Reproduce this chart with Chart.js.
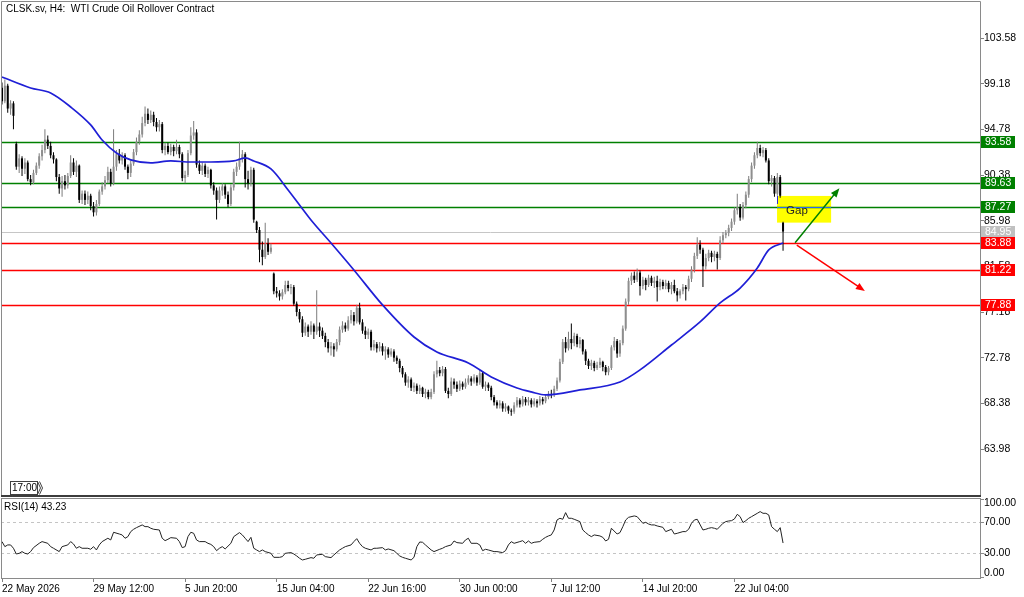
<!DOCTYPE html>
<html><head><meta charset="utf-8">
<script src="https://cdn.jsdelivr.net/npm/chart.js@4.4.1/dist/chart.umd.min.js"></script>
<style>
html,body{margin:0;padding:0;background:#fff;overflow:hidden}
#wrap{position:relative;width:1024px;height:597px;background:#fff}
#c1{position:absolute;left:0;top:0;width:1024px;height:497px}
#c2{position:absolute;left:0;top:497px;width:1024px;height:100px}
</style></head><body>
<div id="wrap"><canvas id="c1" width="1024" height="497"></canvas><canvas id="c2" width="1024" height="100"></canvas></div>
<script>
// ---------- DATA (H4 candles, index = bar number) ----------
const opens = [
98.8,97.5,99.0,96.8,97.3,93.4,91.2,92.0,91.0,91.6,
90.0,89.7,90.6,91.3,92.2,92.8,93.8,93.2,92.3,91.9,
90.2,89.1,89.8,89.4,90.3,91.6,90.7,91.3,88.0,88.6,
88.0,88.4,87.4,86.8,87.6,88.8,89.3,89.9,90.7,89.6,
91.2,92.4,91.8,92.3,91.2,90.6,91.5,92.6,93.6,94.3,
95.4,96.3,95.7,96.2,95.5,95.0,95.3,92.8,93.2,92.6,
93.1,92.7,93.1,92.4,90.1,90.4,92.5,94.2,94.5,91.4,
90.8,91.3,90.5,90.9,89.4,88.9,88.0,88.9,89.3,88.5,
87.6,89.2,90.7,91.2,92.0,92.4,90.0,89.6,90.9,85.9,
85.1,83.2,82.5,83.8,83.0,80.9,79.2,79.0,78.7,79.1,
79.8,79.5,79.6,78.0,77.2,76.5,75.2,75.8,75.3,75.9,
75.3,75.8,75.4,74.9,74.3,73.7,73.9,73.6,74.3,75.5,
75.9,75.6,76.4,76.9,76.3,77.6,76.2,75.4,75.0,75.3,
73.8,74.1,73.7,73.9,73.4,73.6,73.1,73.4,72.8,72.5,
71.8,71.2,70.4,70.7,69.9,70.1,69.6,69.9,69.3,69.5,
69.0,69.5,71.2,71.6,71.3,71.7,69.6,69.3,70.5,70.2,
69.8,70.3,70.0,70.4,70.8,70.5,70.9,70.4,71.3,70.0,
70.2,69.9,69.0,68.5,68.2,68.4,67.9,68.1,67.7,67.6,
68.2,68.7,68.3,68.8,68.5,68.7,68.3,68.6,68.4,68.8,
68.6,69.0,69.3,69.2,69.8,70.6,72.4,74.3,73.7,74.6,
74.2,74.9,74.1,74.5,73.4,72.5,72.0,72.3,71.8,72.1,
72.4,71.9,71.4,71.8,73.8,74.4,73.2,74.2,75.6,78.2,
80.2,80.7,80.3,81.0,79.7,80.3,79.8,80.5,80.0,80.2,
79.6,80.1,79.7,80.0,79.4,79.8,79.2,78.8,79.2,79.6,
79.4,80.4,81.3,82.6,83.7,83.2,81.6,82.4,82.9,82.5,
82.8,82.4,84.1,84.6,84.8,85.3,85.9,87.0,87.3,86.3,
87.5,88.5,90.0,91.3,92.3,93.0,92.5,92.8,91.8,89.8,
90.1,88.6,90.2,85.8];
const highs = [
99.3,99.6,99.2,97.6,97.5,93.6,92.4,92.2,92.0,91.8,
90.4,90.9,91.6,92.5,93.3,94.8,94.2,93.6,92.6,92.0,
90.5,90.3,90.4,90.6,92.3,92.0,91.8,91.4,88.9,88.9,
88.8,88.6,87.8,88.0,89.0,89.7,90.3,91.2,91.0,94.8,
92.8,92.9,92.6,92.5,91.4,91.8,92.9,94.0,94.7,96.0,
97.0,96.8,96.6,96.5,95.9,95.7,95.5,93.5,93.5,93.4,
93.3,93.8,93.3,92.6,90.8,92.8,95.0,95.6,94.8,91.8,
91.6,91.5,91.2,91.0,89.7,89.2,89.3,89.6,89.5,88.8,
89.5,91.0,91.6,93.6,92.8,92.6,90.8,91.2,91.1,86.0,
85.4,84.0,85.8,84.3,83.8,81.0,79.6,79.3,79.4,80.2,
80.2,79.9,79.8,78.2,77.5,76.8,76.2,76.0,76.3,76.1,
79.3,76.2,75.7,75.2,74.6,74.3,74.2,74.6,75.8,76.3,
76.2,76.8,77.4,77.2,77.9,78.1,76.5,75.8,75.6,75.5,
74.5,74.3,74.3,74.2,73.9,73.8,73.7,73.6,73.0,72.7,
72.0,71.4,71.0,70.9,70.4,70.3,70.2,70.0,69.8,69.7,
69.8,71.5,72.5,71.9,72.0,71.9,69.9,70.9,70.8,70.5,
70.6,70.5,70.8,71.1,71.0,71.2,71.1,71.6,71.5,70.5,
70.4,70.1,69.2,68.7,68.7,68.6,68.4,68.2,67.9,68.5,
69.0,68.9,69.1,69.0,69.0,68.9,68.9,68.8,69.1,69.0,
69.3,69.6,69.7,70.1,70.9,72.7,74.6,74.8,75.3,76.1,
75.2,75.1,74.8,74.6,73.6,72.7,72.6,72.5,72.4,72.8,
72.5,72.1,72.0,74.0,74.8,74.6,74.5,75.9,78.5,80.5,
81.0,81.1,81.4,81.2,80.6,80.5,80.8,80.7,80.6,80.7,
80.4,80.3,80.3,80.2,80.1,80.3,79.5,79.4,79.9,79.8,
80.7,81.6,82.9,84.4,84.1,83.4,82.8,83.2,83.1,83.1,
83.0,84.5,84.9,85.1,85.6,86.2,87.3,88.6,87.6,87.8,
88.8,90.3,91.6,92.6,93.6,93.3,93.1,93.0,92.0,90.4,
90.3,90.6,90.4,85.9];
const lows = [
97.2,97.3,96.4,96.2,94.8,90.9,90.6,90.3,90.5,89.8,
89.4,89.5,90.4,91.0,91.8,92.5,92.9,92.0,91.5,89.8,
88.6,88.3,89.0,89.1,90.1,90.4,90.2,87.7,87.6,87.5,
87.6,87.0,86.4,86.5,87.4,88.5,89.0,89.6,89.3,89.4,
90.8,91.5,91.4,90.9,90.0,90.2,91.3,92.3,93.3,94.0,
95.1,95.3,95.4,95.1,94.6,94.6,92.5,92.3,92.4,92.3,
92.2,92.4,92.0,89.8,89.6,90.2,92.3,93.8,91.1,90.5,
90.4,90.2,90.1,89.1,88.5,86.1,87.7,88.4,88.1,87.3,
87.4,88.9,90.3,90.9,91.6,89.2,89.0,89.3,85.8,84.8,
82.0,81.7,82.3,82.7,82.8,78.9,78.6,78.3,78.4,78.9,
79.2,78.9,77.8,76.8,76.2,74.8,74.9,74.8,75.0,74.6,
75.0,74.8,74.6,73.8,73.3,73.0,72.9,73.4,74.0,75.2,
75.3,75.4,76.1,75.9,76.1,76.0,75.1,74.6,74.6,73.5,
73.5,73.3,73.4,73.0,72.6,72.8,72.9,72.4,72.2,71.4,
70.9,70.1,69.9,69.6,69.5,69.3,69.3,69.0,68.9,68.8,
68.8,69.3,70.9,71.0,71.0,69.4,68.9,69.1,69.8,69.5,
69.6,69.7,69.8,70.2,70.1,70.3,70.1,70.2,69.8,69.6,
69.6,68.7,68.2,67.9,67.9,67.6,67.6,67.4,67.2,67.4,
68.0,68.0,68.1,68.2,68.2,68.0,68.1,68.0,68.2,68.3,
68.4,68.8,68.9,69.0,69.6,70.4,72.2,73.3,73.5,73.6,
73.9,73.8,73.7,73.1,72.1,71.7,71.6,71.5,71.6,71.8,
71.5,71.1,71.1,71.6,73.5,72.8,72.9,74.0,75.4,77.9,
79.8,80.0,80.1,78.8,79.4,79.3,79.6,79.7,79.5,78.2,
79.3,79.4,79.4,79.1,78.9,79.0,78.2,78.5,78.9,78.3,
79.2,80.1,81.0,82.3,82.8,79.6,81.3,82.1,82.0,82.1,
81.3,82.2,83.8,84.3,84.5,85.0,85.6,86.6,86.0,86.1,
87.2,88.2,89.7,91.0,92.0,92.2,92.1,91.6,89.5,89.3,
88.3,88.4,88.2,83.1];
const closes = [
97.5,99.0,96.8,97.3,96.1,91.2,92.0,91.0,91.6,90.0,
89.7,90.6,91.3,92.2,92.8,93.8,93.2,92.3,91.9,90.2,
89.1,89.8,89.4,90.3,91.6,90.7,91.3,88.0,88.6,88.0,
88.4,87.4,86.8,87.6,88.8,89.3,89.9,90.7,89.6,91.2,
92.4,91.8,92.3,91.2,90.6,91.5,92.6,93.6,94.3,95.4,
96.3,95.7,96.2,95.5,95.0,95.3,92.8,93.2,92.6,93.1,
92.7,93.1,92.4,90.1,90.4,92.5,94.2,94.5,91.4,90.8,
91.3,90.5,90.9,89.4,88.9,88.0,88.9,89.3,88.5,87.6,
89.2,90.7,91.2,92.0,92.4,90.0,89.6,90.9,86.1,85.1,
83.2,82.5,83.8,83.0,83.4,79.2,79.0,78.7,79.1,79.8,
79.5,79.6,78.0,77.2,76.5,75.2,75.8,75.3,75.9,75.3,
75.8,75.4,74.9,74.3,73.7,73.9,73.6,74.3,75.5,75.9,
75.6,76.4,76.9,76.3,77.6,76.2,75.4,75.0,75.3,73.8,
74.1,73.7,73.9,73.4,73.6,73.1,73.4,72.8,72.5,71.8,
71.2,70.4,70.7,69.9,70.1,69.6,69.9,69.3,69.5,69.0,
69.5,71.2,71.6,71.3,71.7,69.6,69.3,70.5,70.2,69.8,
70.3,70.0,70.4,70.8,70.5,70.9,70.4,71.3,70.0,70.2,
69.9,69.0,68.5,68.2,68.4,67.9,68.1,67.7,67.6,68.2,
68.7,68.3,68.8,68.5,68.7,68.3,68.6,68.4,68.8,68.6,
69.0,69.3,69.2,69.8,70.6,72.4,74.3,73.7,74.6,74.2,
74.9,74.1,74.5,73.4,72.5,72.0,72.3,71.8,72.1,72.4,
71.9,71.4,71.8,73.8,74.4,73.2,74.2,75.6,78.2,80.2,
80.7,80.3,81.0,79.7,80.3,79.8,80.5,80.0,80.2,79.6,
80.1,79.7,80.0,79.4,79.8,79.2,78.8,79.2,79.6,79.4,
80.4,81.3,82.6,83.7,83.2,81.6,82.4,82.9,82.5,82.8,
82.4,84.1,84.6,84.8,85.3,85.9,87.0,87.3,86.3,87.5,
88.5,90.0,91.3,92.3,93.0,92.5,92.8,91.8,89.8,90.1,
88.6,90.2,88.4,84.95];

// moving average (read at sample bars)
const maBars = [0,10,17,24,31,35,40,45,52,59,66,73,81,85,88,94,100,104,108,115,123,133,144,152,163,171,180,185,190,202,216,223,234,244,251,258,264,268,273];
const maVals = [99.84,98.78,98.30,96.95,95.22,93.77,92.52,91.85,91.56,91.75,91.65,91.65,91.75,92.04,91.75,90.98,88.96,87.51,86.07,83.85,81.25,77.88,74.79,73.35,72.29,70.94,69.88,69.50,69.21,69.69,70.46,71.62,74.02,76.24,78.07,79.51,81.44,83.18,83.85];

// RSI(14) (read at sample bars)
const rsiBars = [0,1,2,3,4,5,6,7,8,9,10,11,13,14,16,17,18,20,21,23,24,25,26,27,28,30,31,32,33,34,35,37,38,39,41,42,43,44,45,46,47,49,50,51,52,53,55,56,57,58,59,61,62,63,64,65,66,67,68,69,71,72,73,74,75,76,77,78,80,81,83,84,85,86,87,88,89,90,91,92,94,95,97,98,99,101,102,103,104,105,106,108,109,110,112,113,115,116,118,119,120,122,123,124,125,126,127,129,130,131,133,134,135,137,138,139,140,141,143,144,145,146,147,148,150,151,153,154,155,157,158,159,161,162,163,164,166,167,168,169,170,172,173,175,176,177,178,179,181,182,183,184,185,186,188,189,190,191,192,193,194,195,196,197,198,199,200,202,203,204,205,206,207,209,210,211,212,213,215,216,217,218,219,221,222,223,224,225,226,227,228,229,231,232,234,235,236,238,239,240,241,242,243,245,246,247,248,249,250,252,253,254,255,256,257,258,259,260,261,262,264,265,266,267,268,269,270,271,272,273];
const rsiVals = [45.1,38.6,40.8,40.8,36.5,29.1,30.0,32.2,30.0,29.1,32.2,37.3,42.9,45.1,42.9,38.6,36.5,32.2,38.6,40.8,45.1,42.0,36.5,38.6,36.5,36.5,35.2,38.6,34.3,40.8,45.1,49.4,47.2,57.1,54.9,53.7,49.4,51.5,58.0,61.0,63.1,66.6,64.4,64.4,62.3,61.0,60.1,49.4,46.3,48.1,50.2,49.4,45.1,37.3,38.6,51.5,57.1,55.8,47.2,45.1,45.1,42.9,41.5,38.6,33.4,36.5,38.6,35.6,42.9,51.5,56.7,53.7,49.4,45.1,50.6,36.5,34.3,32.2,34.3,32.2,30.0,24.8,24.8,25.7,30.0,30.9,29.1,26.6,23.6,21.4,22.3,24.4,23.6,27.9,28.7,25.7,24.4,27.9,34.3,36.5,38.6,40.8,45.1,48.9,42.9,38.6,36.5,34.3,36.5,36.5,37.3,34.3,35.6,33.4,30.0,26.6,24.8,23.6,21.4,24.8,38.6,44.6,44.2,40.8,34.3,32.2,35.2,36.5,38.6,40.8,45.9,43.8,42.9,47.2,49.4,42.9,42.9,40.8,33.4,35.2,34.3,32.2,32.2,30.9,33.4,40.8,45.0,42.9,45.1,46.3,42.9,45.9,42.9,44.2,45.1,48.1,50.6,52.4,53.7,60.1,73.0,75.2,73.9,82.5,75.2,75.2,73.9,70.9,60.1,56.7,53.7,51.5,53.7,52.4,50.6,45.9,48.1,62.3,54.9,56.7,64.4,73.0,76.4,78.2,77.3,73.0,68.7,70.0,67.8,66.6,66.6,65.3,63.5,58.0,61.0,54.9,55.8,58.0,58.0,61.0,68.7,73.0,73.9,60.1,61.0,62.3,63.1,62.3,61.0,68.7,70.9,71.7,72.1,74.3,80.3,77.3,69.6,72.1,75.2,77.3,81.6,83.8,81.6,81.6,79.5,64.4,61.0,58.0,63.1,43.23];

const yTickVals = [103.58,99.18,94.78,90.38,85.98,81.58,77.18,72.78,68.38,63.98];
const xTickBars = [0,32,64,96,128,160,192,224,256];
const xTickLabels = ['22 May 2026','29 May 12:00','5 Jun 20:00','15 Jun 04:00','22 Jun 16:00','30 Jun 00:00','7 Jul 12:00','14 Jul 20:00','22 Jul 04:00'];
const resistanceLevels = [93.58, 89.63, 87.27];
const supportLevels = [83.88, 81.22, 77.88];
const lastPrice = 84.95;
const rsiGuides = [70, 30];
const rsiAxisVals = [100, 70, 30, 0];
const rsiLast = 43.23;
const gapZone = {fromBar: 270.9, toBar: 289.8, top: 88.38, bottom: 85.81};
const arrowUp = {from: [277.2, 83.88], to: [292.7, 89.12]};
const arrowDown = {from: [277.8, 83.65], to: [301.6, 79.23]};
const titleText = 'CLSK.sv, H4:  WTI Crude Oil Rollover Contract';
const rsiTitle = 'RSI(14) ' + rsiLast.toFixed(2);

// ---------- STYLE ----------
const FAM = '"Liberation Sans", Arial, sans-serif';
const FONT10 = '10.5px ' + FAM;
const GREEN = '#008000', RED = '#ff0000', BLUE = '#1f1fd6';
const BULL = '#8e8e8e', BULL_WICK = '#7c7c7c', BEAR = '#000000';
const X_MIN = -0.35, X_MAX = 341.84;
Chart.defaults.font.family = FAM;
Chart.defaults.font.size = 10.5;
Chart.defaults.color = '#000';

const idx = closes.map((_, i) => i);
const isBull = idx.map(i => closes[i] >= opens[i]);
const wickData = idx.map(i => ({x: i, y: [lows[i], highs[i]]}));
const bodyData = idx.map(i => ({x: i, y: [opens[i], closes[i]]}));
const maData = maBars.map((b, k) => ({x: b, y: maVals[k]}));
const rsiData = rsiBars.map((b, k) => ({x: b, y: rsiVals[k]}));

function arrow(ctx, x0, y0, x1, y1, color) {
  const ang = Math.atan2(y1 - y0, x1 - x0), L = 9, W = 3.6;
  ctx.strokeStyle = color; ctx.fillStyle = color; ctx.lineWidth = 1.5;
  ctx.beginPath(); ctx.moveTo(x0, y0);
  ctx.lineTo(x1 - Math.cos(ang) * L * 0.8, y1 - Math.sin(ang) * L * 0.8); ctx.stroke();
  ctx.beginPath(); ctx.moveTo(x1, y1);
  ctx.lineTo(x1 - Math.cos(ang) * L - Math.sin(ang) * W, y1 - Math.sin(ang) * L + Math.cos(ang) * W);
  ctx.lineTo(x1 - Math.cos(ang) * L + Math.sin(ang) * W, y1 - Math.sin(ang) * L - Math.cos(ang) * W);
  ctx.closePath(); ctx.fill();
}

const mainOverlay = {
  id: 'mainOverlay',
  beforeDatasetsDraw(chart) {
    const {ctx, chartArea: a, scales: {x, y}} = chart;
    ctx.save();
    let py = Math.round(y.getPixelForValue(lastPrice)) + 0.5;
    ctx.strokeStyle = '#c6c6c6'; ctx.lineWidth = 1;
    ctx.beginPath(); ctx.moveTo(a.left, py); ctx.lineTo(a.right, py); ctx.stroke();
    const gx0 = x.getPixelForValue(gapZone.fromBar), gx1 = x.getPixelForValue(gapZone.toBar);
    const gy0 = y.getPixelForValue(gapZone.top), gy1 = y.getPixelForValue(gapZone.bottom);
    ctx.fillStyle = '#ffff00';
    ctx.fillRect(gx0, gy0, gx1 - gx0, gy1 - gy0);
    const drawLevel = (p, c) => {
      const yy = Math.round(y.getPixelForValue(p)) + 0.5;
      ctx.strokeStyle = c; ctx.lineWidth = 1.6;
      ctx.beginPath(); ctx.moveTo(a.left, yy); ctx.lineTo(a.right, yy); ctx.stroke();
      if (p < gapZone.top && p > gapZone.bottom) {
        ctx.strokeStyle = '#2a6af0'; ctx.lineWidth = 1.2;
        ctx.beginPath(); ctx.moveTo(gx0, yy); ctx.lineTo(gx1, yy); ctx.stroke();
      }
    };
    resistanceLevels.forEach(p => drawLevel(p, GREEN));
    supportLevels.forEach(p => drawLevel(p, RED));
    ctx.strokeStyle = '#2a2ae0'; ctx.lineWidth = 1;
    ctx.beginPath(); ctx.moveTo(Math.round(gx0) + 0.5, gy0); ctx.lineTo(Math.round(gx0) + 0.5, gy0 + 8); ctx.stroke();
    ctx.restore();
  },
  afterDatasetsDraw(chart) {
    const {ctx, scales: {x, y}} = chart;
    ctx.save();
    const gx0 = x.getPixelForValue(gapZone.fromBar);
    const gyc = (y.getPixelForValue(gapZone.top) + y.getPixelForValue(gapZone.bottom)) / 2;
    ctx.fillStyle = '#222'; ctx.font = '11.5px ' + FAM; ctx.textBaseline = 'middle'; ctx.textAlign = 'left';
    ctx.fillText('Gap', gx0 + 9, gyc + 2);
    arrow(ctx, x.getPixelForValue(arrowUp.from[0]), y.getPixelForValue(arrowUp.from[1]),
          x.getPixelForValue(arrowUp.to[0]), y.getPixelForValue(arrowUp.to[1]), GREEN);
    arrow(ctx, x.getPixelForValue(arrowDown.from[0]), y.getPixelForValue(arrowDown.from[1]),
          x.getPixelForValue(arrowDown.to[0]), y.getPixelForValue(arrowDown.to[1]), RED);
    ctx.restore();
  },
  afterDraw(chart) {
    const {ctx, chartArea: a, scales: {y}} = chart;
    ctx.save();
    ctx.strokeStyle = '#8a8a8a'; ctx.lineWidth = 1;
    ctx.beginPath();
    ctx.moveTo(1.5, 495); ctx.lineTo(1.5, 1.5); ctx.lineTo(a.right + 0.5, 1.5); ctx.lineTo(a.right + 0.5, 497);
    ctx.stroke();
    ctx.fillStyle = '#3c3c3c'; ctx.fillRect(1, 495, a.right, 2);
    const tag = (p, bg) => {
      const yy = Math.round(y.getPixelForValue(p));
      ctx.fillStyle = bg; ctx.fillRect(a.right + 1, yy - 6, 34, 12);
      ctx.fillStyle = '#fff'; ctx.font = FONT10; ctx.textBaseline = 'middle'; ctx.textAlign = 'left';
      ctx.fillText(p.toFixed(2), a.right + 5, yy + 0.5);
    };
    tag(lastPrice, '#c0c0c0');
    resistanceLevels.forEach(p => tag(p, GREEN));
    supportLevels.forEach(p => tag(p, RED));
    ctx.fillStyle = '#000'; ctx.font = '10px ' + FAM; ctx.textBaseline = 'middle'; ctx.textAlign = 'left';
    ctx.fillText(titleText, 6, 9.5);
    ctx.fillStyle = '#fff'; ctx.fillRect(10, 481, 30, 13);
    ctx.strokeStyle = '#404040'; ctx.lineWidth = 1;
    ctx.strokeRect(10.5, 481.5, 27, 13);
    ctx.beginPath();
    ctx.moveTo(37.5, 481.5); ctx.lineTo(40.5, 488); ctx.lineTo(37.5, 494.5);
    ctx.moveTo(39.5, 481.5); ctx.lineTo(42.5, 488); ctx.lineTo(39.5, 494.5);
    ctx.moveTo(12.5, 494.5); ctx.lineTo(12.5, 497);
    ctx.stroke();
    ctx.fillStyle = '#000'; ctx.font = '10px ' + FAM; ctx.fillText('17:00', 12, 488.5);
    ctx.restore();
  }
};

new Chart(document.getElementById('c1'), {
  type: 'bar',
  data: {
    datasets: [
      {type: 'line', data: maData, borderColor: BLUE, borderWidth: 1.7, pointRadius: 0,
       cubicInterpolationMode: 'monotone', order: 0},
      {type: 'bar', data: bodyData, backgroundColor: idx.map(i => isBull[i] ? BULL : BEAR),
       barThickness: 2, grouped: false, minBarLength: 1, inflateAmount: 0, order: 1},
      {type: 'bar', data: wickData, backgroundColor: idx.map(i => isBull[i] ? BULL_WICK : BEAR),
       barThickness: 1, grouped: false, minBarLength: 1, inflateAmount: 0, order: 2}
    ]
  },
  options: {
    responsive: false, animation: false, devicePixelRatio: 1,
    layout: {padding: {left: 1, top: 1, bottom: 2, right: 0}},
    plugins: {legend: {display: false}, tooltip: {enabled: false}},
    events: [],
    scales: {
      x: {type: 'linear', min: X_MIN, max: X_MAX, offset: false, display: false},
      y: {
        position: 'right', min: 59.57, max: 107.16,
        afterBuildTicks: s => { s.ticks = yTickVals.map(v => ({value: v})); },
        afterFit: s => { s.width = 44; s.paddingTop = 0; s.paddingBottom = 0; },
        ticks: {callback: v => Number(v).toFixed(2), padding: 0, color: '#000', font: {size: 10.5}},
        grid: {drawOnChartArea: false, drawTicks: true, tickLength: 4, color: '#808080'},
        border: {display: false}
      }
    }
  },
  plugins: [mainOverlay]
});

const rsiOverlay = {
  id: 'rsiOverlay',
  beforeDatasetsDraw(chart) {
    const {ctx, chartArea: a, scales: {y}} = chart;
    ctx.save();
    ctx.strokeStyle = '#c4c4c4'; ctx.lineWidth = 1; ctx.setLineDash([3, 3]);
    rsiGuides.forEach(v => {
      const yy = Math.round(y.getPixelForValue(v)) + 0.5;
      ctx.beginPath(); ctx.moveTo(a.left, yy); ctx.lineTo(a.right, yy); ctx.stroke();
    });
    ctx.restore();
  },
  afterDraw(chart) {
    const {ctx, chartArea: a, scales: {y}} = chart;
    ctx.save();
    ctx.strokeStyle = '#8a8a8a'; ctx.lineWidth = 1;
    ctx.strokeRect(1.5, 1.5, a.right - 1, 80);
    ctx.font = FONT10; ctx.fillStyle = '#000'; ctx.textAlign = 'left'; ctx.textBaseline = 'middle';
    rsiAxisVals.forEach(v => {
      const yy = Math.round(y.getPixelForValue(v)) + 0.5;
      ctx.beginPath(); ctx.moveTo(a.right, yy); ctx.lineTo(a.right + 4, yy); ctx.stroke();
      const ly = Math.min(Math.max(yy, 6.5), 76);
      ctx.fillText(v.toFixed(2), a.right + 4, ly);
    });
    ctx.font = '10px ' + FAM;
    ctx.fillText(rsiTitle, 4, 10);
    ctx.restore();
  }
};

new Chart(document.getElementById('c2'), {
  type: 'line',
  data: {datasets: [{data: rsiData, borderColor: '#222', borderWidth: 1, pointRadius: 0, tension: 0}]},
  options: {
    responsive: false, animation: false, devicePixelRatio: 1,
    layout: {padding: {left: 1, top: 1, bottom: 0, right: 0}},
    plugins: {legend: {display: false}, tooltip: {enabled: false}},
    events: [],
    scales: {
      x: {
        type: 'linear', position: 'bottom', min: X_MIN, max: X_MAX, offset: false,
        afterBuildTicks: s => { s.ticks = xTickBars.map(v => ({value: v})); },
        afterFit: s => { s.height = 19; s.paddingLeft = 0; s.paddingRight = 0; },
        ticks: {callback: (v, i) => xTickLabels[i], align: 'start', autoSkip: false,
                maxRotation: 0, minRotation: 0, padding: 1, color: '#000', font: {size: 10}},
        grid: {drawOnChartArea: false, drawTicks: true, tickLength: 4, color: '#808080'},
        border: {display: false}
      },
      y: {
        position: 'right', min: -1.87, max: 101.35,
        afterFit: s => { s.width = 44; s.paddingTop = 0; s.paddingBottom = 0; },
        ticks: {display: false}, grid: {display: false}, border: {display: false}
      }
    }
  },
  plugins: [rsiOverlay]
});
</script>
</body></html>
